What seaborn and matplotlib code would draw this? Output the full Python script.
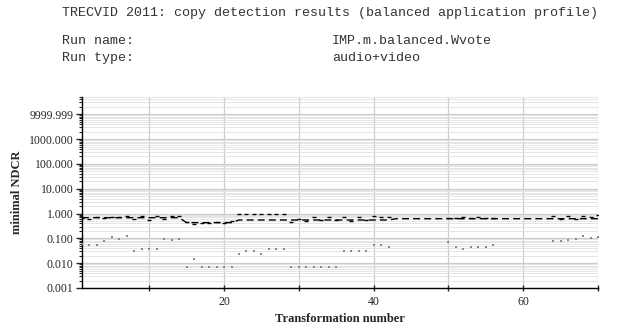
import numpy as np
import pandas as pd
import matplotlib
matplotlib.use("Agg")
import matplotlib.pyplot as plt
import matplotlib.ticker as mticker
import seaborn as sns

nan = np.nan

# ---- data ----
transformation = list(range(1, 71))

median_ndcr = ([0.68] * 14 + [0.43] * 7 + [0.55] * 7 + [0.55] * 14 + [0.62] * 28)

top_ndcr = [0.65, 0.62, 0.72, 0.65, 0.75, 0.72, 0.78, 0.60, 0.82, 0.55, 0.80, 0.60, 0.78, 0.82,
            0.45, 0.38, 0.42, 0.40, 0.45, 0.40, 0.48,
            0.95, 0.95, 0.95, 0.95, 0.95, 0.95, 0.95,
            0.45, 0.60, 0.50, 0.70, 0.55, 0.70, 0.55, 0.75, 0.50, 0.75, 0.55, 0.78, 0.70, 0.72,
            nan, nan, nan, nan, nan, nan, nan,
            0.68, 0.65, 0.70, 0.66, 0.70, 0.68, 0.66,
            nan, nan, nan, nan, nan, nan, nan,
            0.82, 0.60, 0.82, 0.62, 0.82, 0.70, 0.85]

run_ndcr = [0.061, 0.056, 0.056, 0.078, 0.11, 0.098, 0.129, 0.031, 0.038, 0.038, 0.038, 0.094, 0.086, 0.094,
            0.0071, 0.015, 0.0071, 0.0071, 0.0071, 0.0071, 0.0071,
            0.0226, 0.031, 0.031, 0.0226, 0.038, 0.038, 0.038,
            0.0071, 0.0071, 0.0071, 0.0071, 0.0071, 0.0071, 0.0071,
            0.031, 0.031, 0.031, 0.031, 0.054, 0.054, 0.046,
            nan, nan, nan, nan, nan, nan, nan,
            0.069, 0.046, 0.037, 0.046, 0.046, 0.046, 0.056,
            nan, nan, nan, nan, nan, nan, nan,
            0.078, 0.078, 0.086, 0.094, 0.129, 0.107, 0.117]

ytick_values = [0.001, 0.01, 0.1, 1, 10, 100, 1000, 10000]
ytick_labels = ["0.001", "0.010", "0.100", "1.000", "10.000", "100.000", "1000.000", "9999.999"]
xtick_values = [10, 20, 30, 40, 50, 60, 70]
xtick_labels = ["", "20", "", "40", "", "60", ""]

title = "TRECVID 2011: copy detection results (balanced application profile)"
run_name = "IMP.m.balanced.Wvote"
run_type = "audio+video"

df = pd.DataFrame({"t": transformation, "median": median_ndcr, "top": top_ndcr, "run": run_ndcr})

sns.set_theme(style="white")
plt.rcParams["font.family"] = ["Liberation Serif", "DejaVu Serif"]

fig = plt.figure(figsize=(6.25, 3.31), dpi=100)
ax = fig.add_axes([0.131, 0.130, 0.826, 0.577])

sns.lineplot(data=df, x="t", y="median", ax=ax, color="black", linewidth=1.0, zorder=3)
for ln in ax.get_lines():
    ln.set_dashes([5, 3])
sns.scatterplot(data=df.dropna(subset=["top"]), x="t", y="top", ax=ax, color="black",
                marker="_", s=7, linewidth=1.0, zorder=4)
sns.scatterplot(data=df.dropna(subset=["run"]), x="t", y="run", ax=ax, color="#8a8a8a",
                marker="s", s=3, linewidth=0, zorder=4)

ax.set_yscale("log")
ax.set_ylim(0.001, 50000)
ax.set_xlim(1, 70)

ax.yaxis.set_major_locator(mticker.FixedLocator(ytick_values))
ax.yaxis.set_major_formatter(mticker.FixedFormatter(ytick_labels))
ax.yaxis.set_minor_locator(mticker.LogLocator(base=10, subs=np.arange(2, 10)))
ax.yaxis.set_minor_formatter(mticker.NullFormatter())
ax.xaxis.set_major_locator(mticker.FixedLocator(xtick_values))
ax.xaxis.set_major_formatter(mticker.FixedFormatter(xtick_labels))

ax.grid(True, which="major", axis="both", color="#cccccc", linewidth=0.9)
ax.grid(True, which="minor", axis="y", color="#e0e0e0", linewidth=0.6)
ax.set_axisbelow(True)

for s in ["top", "right"]:
    ax.spines[s].set_visible(False)
for s in ["left", "bottom"]:
    ax.spines[s].set_color("black")
    ax.spines[s].set_linewidth(1.0)

ax.tick_params(axis="y", which="major", direction="out", length=4, width=1, labelsize=8.5, pad=2,
               left=True)
ax.tick_params(axis="y", which="minor", direction="out", length=2, width=0.8, left=True)
ax.tick_params(axis="x", which="major", direction="inout", length=4, width=1, labelsize=8.5,
               bottom=True)

ax.set_xlabel("Transformation number", fontsize=9, fontweight="bold", labelpad=4)
ax.set_ylabel("minimal NDCR", fontsize=9, fontweight="bold", labelpad=4)

mono = ["Liberation Mono", "DejaVu Sans Mono"]
tc = "#333333"
fig.text(62 / 625, 1 - 13 / 331, title, family=mono, fontsize=9.6, va="center", ha="left", color=tc)
fig.text(62 / 625, 1 - 41 / 331, "Run name:", family=mono, fontsize=9.6, va="center", ha="left", color=tc)
fig.text(62 / 625, 1 - 58 / 331, "Run type:", family=mono, fontsize=9.6, va="center", ha="left", color=tc)
fig.text(332 / 625, 1 - 41 / 331, run_name, family=mono, fontsize=9.6, va="center", ha="left", color=tc)
fig.text(332 / 625, 1 - 58 / 331, run_type, family=mono, fontsize=9.6, va="center", ha="left", color=tc)

fig.savefig("out.png", dpi=100)
